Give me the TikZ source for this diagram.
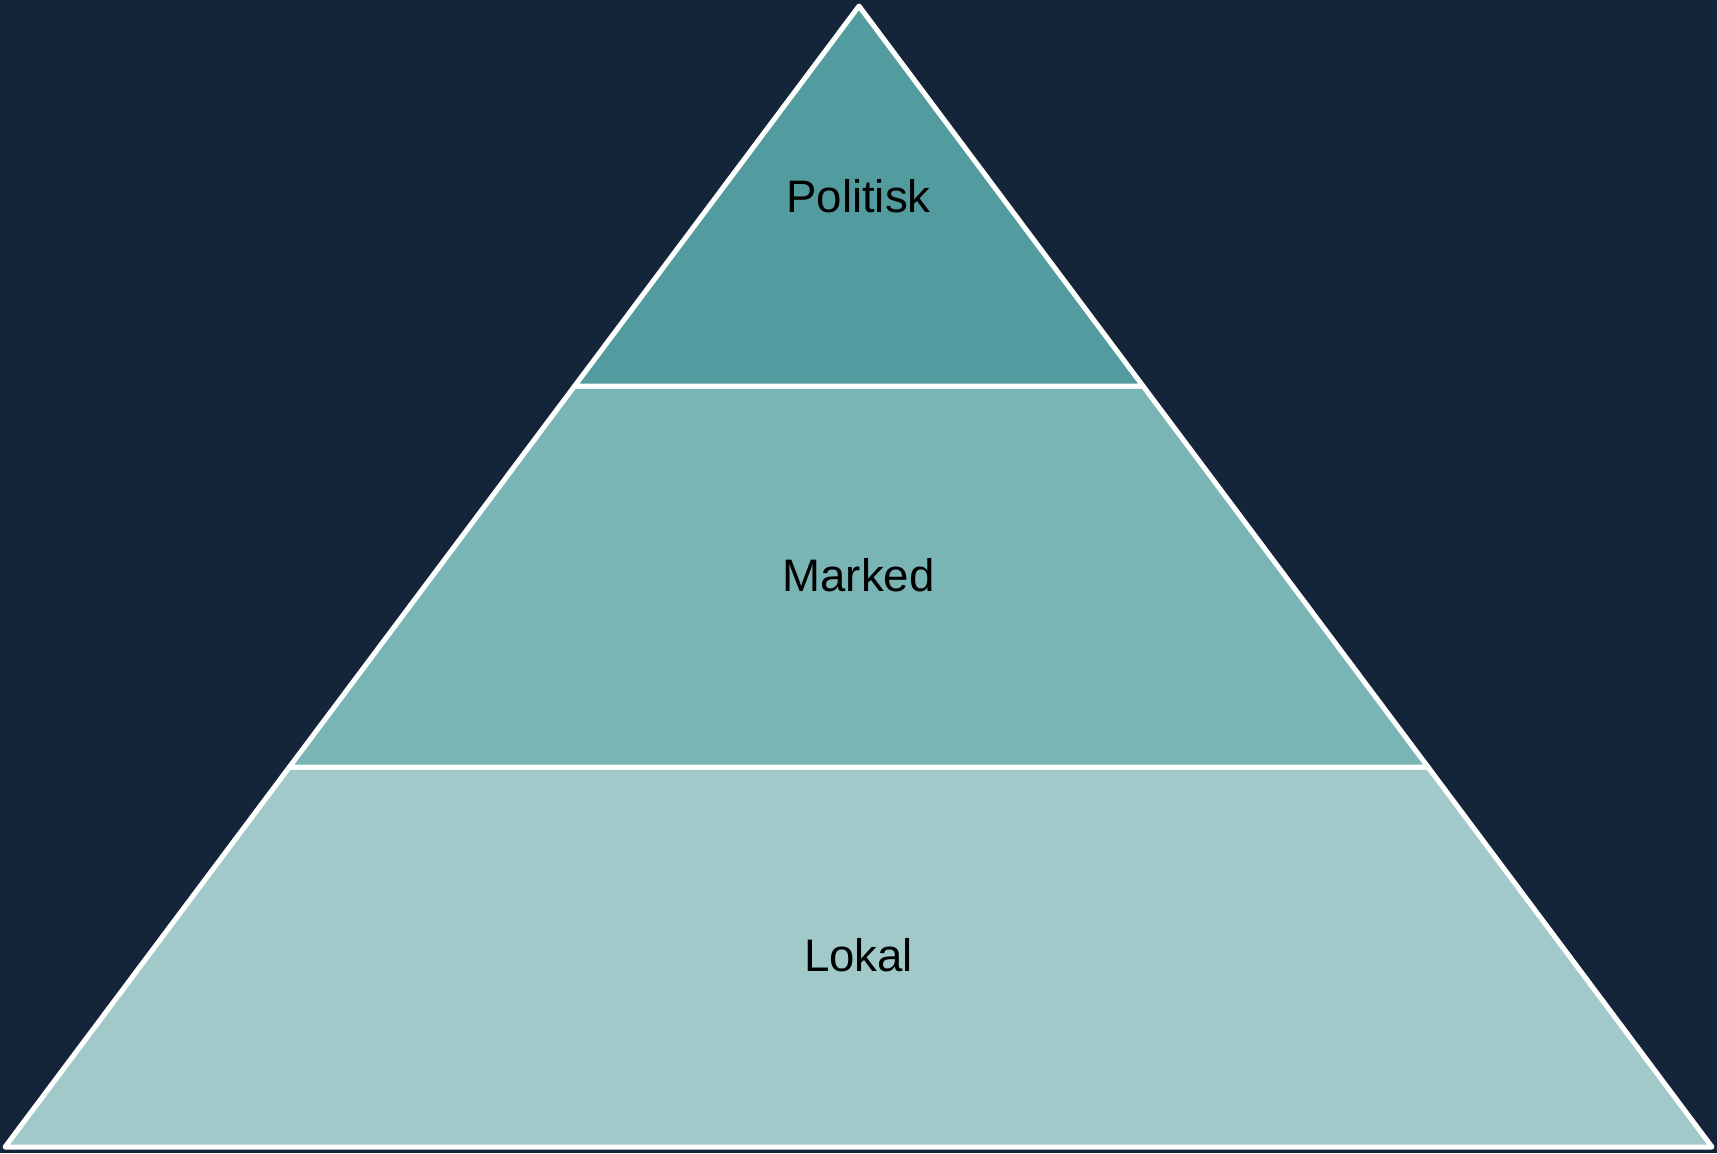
\documentclass[tikz,border=0pt]{standalone}
\usepackage{fontspec}
\setmainfont{Liberation Sans}
\newlength{\du}
\setlength{\du}{0.5pt}
\begin{document}
\begin{tikzpicture}[even odd rule,line join=round]
\pgftransformxscale{1.000000}
\pgftransformyscale{-1.000000}
\definecolor{dialinecolor}{rgb}{1.000000, 1.000000, 1.000000}
\definecolor{diabackcolor}{rgb}{0.078431, 0.145098, 0.227451}
\fill[diabackcolor] (0.000000\du,0.000000\du) rectangle (1717.000000\du,1153.000000\du);
\useasboundingbox (0.000000\du,0.000000\du) rectangle (1717.000000\du,1153.000000\du);
\pgfsetlinewidth{5.000000\du}
% bottom band
\definecolor{diafillcolor}{rgb}{0.635294, 0.788235, 0.792157}
\filldraw[fill=diafillcolor,draw=dialinecolor] (5.000000\du,1147.000000\du)--(289.400000\du,767.000000\du)--(1428.000000\du,767.000000\du)--(1712.000000\du,1147.000000\du)--cycle;
% middle band
\definecolor{diafillcolor}{rgb}{0.478431, 0.709804, 0.713725}
\filldraw[fill=diafillcolor,draw=dialinecolor] (289.400000\du,767.000000\du)--(574.600000\du,386.000000\du)--(1143.000000\du,386.000000\du)--(1428.000000\du,767.000000\du)--cycle;
% top band
\definecolor{diafillcolor}{rgb}{0.321569, 0.607843, 0.619608}
\filldraw[fill=diafillcolor,draw=dialinecolor] (574.600000\du,386.000000\du)--(859.000000\du,6.000000\du)--(1143.000000\du,386.000000\du)--cycle;
% setfont left to latex
\node[inner sep=0pt,outer sep=0pt,color=black] (politisk) at (858.500000\du,196.000000\du){\fontsize{22.8}{27}\selectfont Politisk};
\node[inner sep=0pt,outer sep=0pt,color=black] (marked) at (858.500000\du,575.000000\du){\fontsize{22.8}{27}\selectfont Marked};
\node[inner sep=0pt,outer sep=0pt,color=black] (lokal) at (858.500000\du,955.000000\du){\fontsize{22.8}{27}\selectfont Lokal};
\end{tikzpicture}
\end{document}
